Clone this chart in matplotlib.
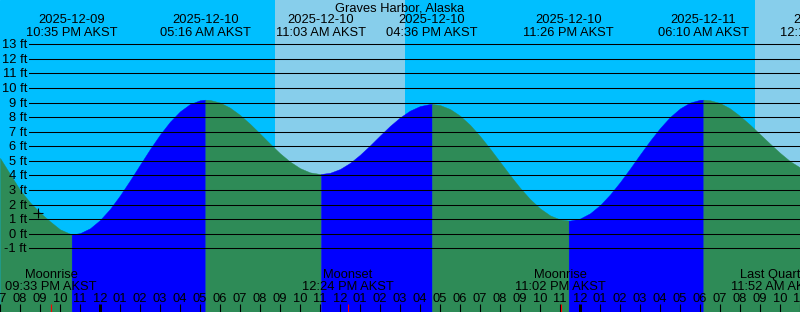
import matplotlib
matplotlib.use("Agg")
import matplotlib.pyplot as plt
import matplotlib.transforms as mtransforms
import numpy as np
from datetime import datetime

# ---------------- data ----------------
title = "Graves Harbor, Alaska"
tz = "AKST"
origin = "2025-12-09 12:00 AM"          # reference for the time axis
view_start = "2025-12-09 07:00 PM"
view_end = "2025-12-11 11:00 AM"
sample_step_h = 0.5

# half-hourly tide heights (ft) from 2025-12-09 07:00 PM to 2025-12-11 11:00 AM
heights = [5.2, 4.1, 3.0, 2.15, 1.45, 0.85, 0.3, 0.0, 0.04, 0.37,
           0.94, 1.70, 2.63, 3.66, 4.74, 5.81, 6.81, 7.69, 8.40, 8.90,
           9.16, 9.18, 9.00, 8.65, 8.15, 7.54, 6.87, 6.18, 5.52, 4.95,
           4.50, 4.21, 4.10, 4.18, 4.44, 4.86, 5.42, 6.06, 6.74, 7.40,
           7.98, 8.45, 8.76, 8.90, 8.83, 8.56, 8.10, 7.47, 6.70, 5.84,
           4.93, 4.02, 3.15, 2.38, 1.74, 1.26, 0.98, 0.90, 1.04, 1.40,
           1.96, 2.69, 3.54, 4.47, 5.44, 6.38, 7.25, 8.01, 8.60, 9.00,
           9.19, 9.16, 8.97, 8.60, 8.08, 7.48, 6.83, 6.18, 5.55, 4.98,
           4.55]

# tide extremes (labels at the top)
extreme_dates = ["2025-12-09", "2025-12-10", "2025-12-10", "2025-12-10",
                 "2025-12-10", "2025-12-11", "2025-12-11"]
extreme_clocks = ["10:35 PM", "05:16 AM", "11:03 AM", "04:36 PM",
                  "11:26 PM", "06:10 AM", "12:18 PM"]
extreme_heights = [-0.05, 9.2, 4.1, 8.9, 0.9, 9.2, 4.0]

# sun (daytime sky)
sunrises = ["2025-12-10 08:45 AM", "2025-12-11 08:45 AM"]
sunsets = ["2025-12-10 03:15 PM", "2025-12-11 03:16 PM"]

# moon events (bottom labels)
moon_names = ["Moonrise", "Moonset", "Moonrise", "Last Quarter"]
moon_dates = ["2025-12-09", "2025-12-10", "2025-12-10", "2025-12-11"]
moon_clocks = ["09:33 PM", "12:24 PM", "11:02 PM", "11:52 AM"]

# current-time mark
now_stamp = "2025-12-09 08:53 PM"
now_height = 1.44

levels = list(range(-1, 14))

# ---------------- helpers ----------------
FMT = "%Y-%m-%d %I:%M %p"
t0 = datetime.strptime(origin, FMT)


def hours(stamp):
    return (datetime.strptime(stamp, FMT) - t0).total_seconds() / 3600.0


W, H = 800, 312
PX_FT = 14.57
Y13 = 44.3

x0, x1 = hours(view_start), hours(view_end)
ytop = 13 + Y13 / PX_FT
ybot = 13 - (H - Y13) / PX_FT

NIGHT = "#00BFFF"
DAY = "#87CEEB"
RISE = "#0000FF"
FALL = "#2E8B57"

plt.rcParams["font.family"] = ["Liberation Sans", "DejaVu Sans"]
FS = 9.3

fig = plt.figure(figsize=(W / 100, H / 100), dpi=100)
ax = fig.add_axes([0, 0, 1, 1])
ax.set_xlim(x0, x1)
ax.set_ylim(ybot, ytop)
ax.axis("off")
ax.add_patch(plt.Rectangle((0, 0), 1, 1, transform=ax.transAxes,
                           color=NIGHT, zorder=0))


def yfrac(py):
    return 1 - py / H


tx_ya = mtransforms.blended_transform_factory(ax.transData, ax.transAxes)
xa_ty = mtransforms.blended_transform_factory(ax.transAxes, ax.transData)

# day sky
for sr, ss in zip(sunrises, sunsets):
    ax.axvspan(hours(sr), hours(ss), color=DAY, lw=0, zorder=1)

# tide curve
ext_t = [hours(d + " " + c) for d, c in zip(extreme_dates, extreme_clocks)]
samp_t = list(x0 + sample_step_h * np.arange(len(heights)))
pts = sorted(list(zip(samp_t, heights)) +
             [(a, b) for a, b in zip(ext_t, extreme_heights) if x0 < a < x1])
tt = np.array([p[0] for p in pts])
hh = np.array([p[1] for p in pts])

bounds = [x0] + [e for e in ext_t if x0 < e < x1] + [x1]
for a, b in zip(bounds[:-1], bounds[1:]):
    m = (tt >= a - 1e-9) & (tt <= b + 1e-9)
    col = RISE if hh[m][-1] > hh[m][0] else FALL
    ax.fill_between(tt[m], hh[m], ybot, color=col, lw=0.3, ec=col, zorder=2)

# grid lines and labels
for lv in levels:
    ax.axhline(lv, xmin=29 / W, xmax=1, color="black", lw=0.75, zorder=4)
    ax.text(27 / W, lv - 4 / PX_FT, f"{lv} ft", transform=xa_ty,
            ha="right", va="baseline", fontsize=FS, zorder=5)

# title and extreme labels
fig.text(0.5, yfrac(11.7), title, ha="center", va="baseline", fontsize=FS)
for t, d, c in zip(ext_t, extreme_dates, extreme_clocks):
    ax.text(t, yfrac(23.3), d, transform=tx_ya, ha="center",
            va="baseline", fontsize=FS, zorder=5, clip_on=False)
    ax.text(t, yfrac(35.7), f"{c} {tz}", transform=tx_ya, ha="center",
            va="baseline", fontsize=FS, zorder=5, clip_on=False)

# hour ticks and labels
hour_t = np.arange(np.ceil(x0), x1 + 1e-9, 1.0)
for t in hour_t:
    hod = int(round(t)) % 24
    lab = f"{(hod % 12) or 12:02d}"
    ax.plot([t, t], [0, yfrac(304.3)], transform=tx_ya, color="black",
            lw=2.16 if hod == 0 else 0.8, solid_capstyle="butt", zorder=5)
    ax.text(t, yfrac(301.7), lab, transform=tx_ya, ha="center",
            va="baseline", fontsize=FS, zorder=5)

# moon events
for n, d, c in zip(moon_names, moon_dates, moon_clocks):
    t = hours(d + " " + c)
    if x0 <= t <= x1:
        ax.plot([t, t], [0, yfrac(304.3)], transform=tx_ya, color="red",
                lw=0.8, solid_capstyle="butt", zorder=5)
    lx = min(t, x1 - 1.2)
    ax.text(lx, yfrac(277.7), n, transform=tx_ya, ha="center",
            va="baseline", fontsize=FS, zorder=5)
    ax.text(lx, yfrac(290.0), f"{c} {tz}", transform=tx_ya, ha="center",
            va="baseline", fontsize=FS, zorder=5)

# now marker
ax.plot([hours(now_stamp)], [now_height], marker="+", ms=6.5, mew=0.8,
        color="black", zorder=6)

fig.savefig("out.png", dpi=100)
